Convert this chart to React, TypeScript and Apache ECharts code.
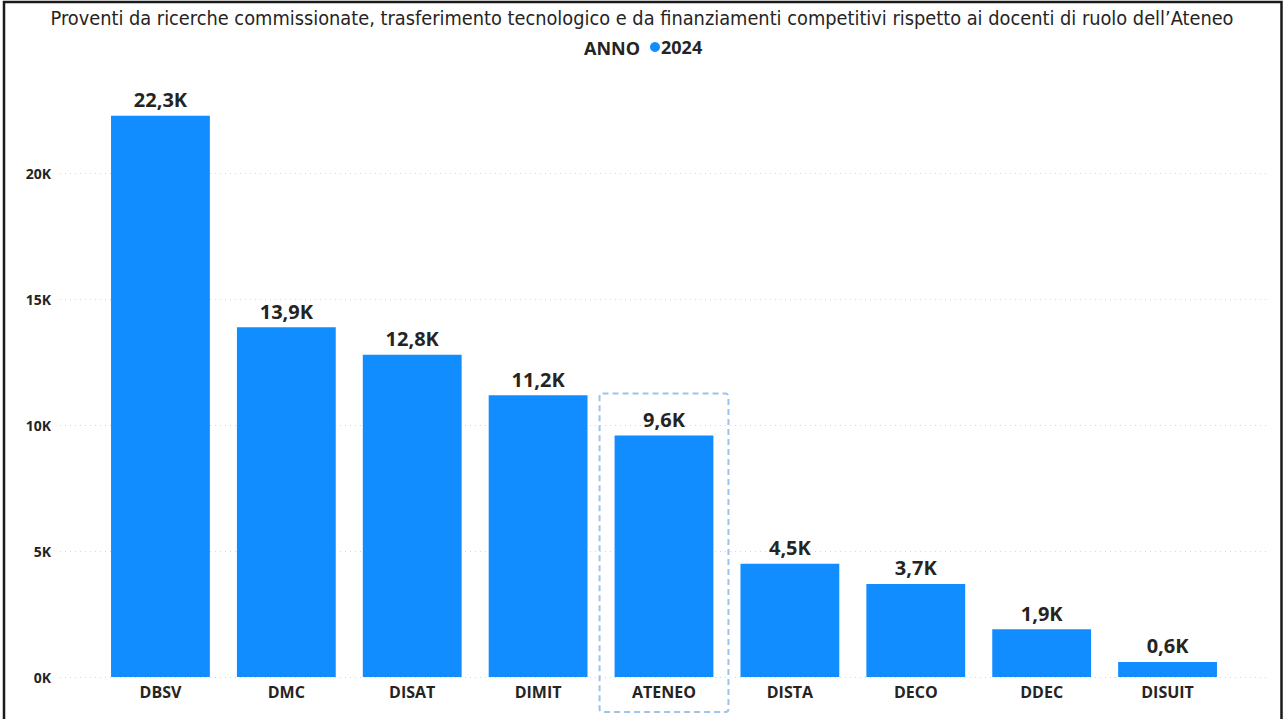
import React, { useEffect, useRef } from "react";
import * as echarts from "echarts";

const categories = ["DBSV", "DMC", "DISAT", "DIMIT", "ATENEO", "DISTA", "DECO", "DDEC", "DISUIT"];
const values2024 = [22300, 13900, 12800, 11200, 9600, 4500, 3700, 1900, 600];
const seriesName = "2024";
const legendTitle = "ANNO";
const highlightCategory = "ATENEO";
const titleText =
  "Proventi da ricerche commissionate, trasferimento tecnologico e da finanziamenti competitivi rispetto ai docenti di ruolo dell\u2019Ateneo";
const yMax = 24000;
const yInterval = 5000;

const BLUE = "#118DFF";
const TEXT = "#252423";
const FONT = "'Open Sans', 'Noto Sans', sans-serif";

export default function App() {
  const ref = useRef<HTMLDivElement>(null);
  useEffect(() => {
    if (!ref.current) return;
    const chart = echarts.init(ref.current, undefined, { renderer: "svg" });
    const fmtK = (v: number) => (v / 1000).toFixed(1).replace(".", ",") + "K";
    chart.setOption({
      animation: false,
      backgroundColor: "#ffffff",
      title: {
        text: titleText,
        left: "center",
        top: 3,
        textStyle: {
          fontFamily: "'Liberation Sans Narrow', 'DejaVu Sans Condensed', sans-serif",
          fontWeight: "normal",
          fontSize: 19.8,
          color: TEXT,
        },
      },
      legend: {
        data: [seriesName],
        left: 645,
        top: 33,
        icon: "circle",
        itemWidth: 10,
        itemHeight: 10,
        itemGap: 4,
        textStyle: { fontFamily: FONT, fontWeight: "bold", fontSize: 18, color: TEXT, padding: [0, 0, 0, -4] },
      },
      grid: [
        { left: 97.5, right: 53.5, top: 73, bottom: 42 },
        { left: 60, right: 17, top: 73, bottom: 42 },
      ],
      xAxis: [
        {
          type: "category",
          data: categories,
          gridIndex: 0,
          axisLine: { show: false },
          axisTick: { show: false },
          axisLabel: { fontFamily: FONT, fontWeight: "bold", fontSize: 16, color: TEXT, margin: 7 },
        },
        { type: "value", gridIndex: 1, show: false, min: 0, max: 1 },
      ],
      yAxis: [
        { type: "value", gridIndex: 0, min: 0, max: yMax, interval: yInterval, show: false },
        {
          type: "value",
          gridIndex: 1,
          min: 0,
          max: yMax,
          interval: yInterval,
          axisLine: { show: false },
          axisTick: { show: false },
          axisLabel: {
            showMaxLabel: false,
            fontFamily: FONT,
            fontWeight: "bold",
            fontSize: 14,
            color: TEXT,
            margin: 9,
            formatter: (v: number) => v / 1000 + "K",
          },
          splitLine: { show: true, showMaxLine: false, lineStyle: { color: "#d6d6d6", type: [1, 4], width: 1 } },
        },
      ],
      series: [
        {
          name: seriesName,
          type: "bar",
          xAxisIndex: 0,
          yAxisIndex: 0,
          data: values2024,
          barCategoryGap: "21.5%",
          itemStyle: { color: BLUE },
          label: {
            show: true,
            position: "top",
            distance: 6,
            fontFamily: FONT,
            fontWeight: "bold",
            fontSize: 20,
            color: TEXT,
            formatter: (p: any) => fmtK(p.value),
          },
        },
      ],
    });

    const idx = categories.indexOf(highlightCategory);
    const cx = chart.convertToPixel({ xAxisIndex: 0 }, highlightCategory as any) as unknown as number;
    const topY = chart.convertToPixel({ yAxisIndex: 0 }, values2024[idx]) as unknown as number;
    const baseY = chart.convertToPixel({ yAxisIndex: 0 }, 0) as unknown as number;
    const w = chart.getWidth();
    const halfBand = (w - 97.5 - 53.5) / categories.length / 2 + 1.5;
    chart.setOption({
      graphic: [
        {
          type: "text",
          x: 584,
          y: 48,
          style: {
            text: legendTitle,
            fontFamily: FONT,
            fontWeight: "bold",
            fontSize: 18,
            fill: TEXT,
            verticalAlign: "middle",
          },
        },
        {
          type: "rect",
          shape: { x: cx - halfBand, y: topY - 42, width: halfBand * 2, height: baseY - topY + 42 + 35, r: 3 },
          style: { fill: "none", stroke: "#9dc3ea", lineWidth: 2, lineDash: [6, 4] },
        },
        {
          type: "rect",
          shape: { x: 4, y: 2, width: 1277.5, height: 760 },
          style: { fill: "none", stroke: "#1a1a1a", lineWidth: 2.5 },
        },
      ],
    });
    return () => chart.dispose();
  }, []);
  return <div ref={ref} style={{ position: "absolute", left: 0, top: 0, width: 1284, height: 719 }} />;
}
